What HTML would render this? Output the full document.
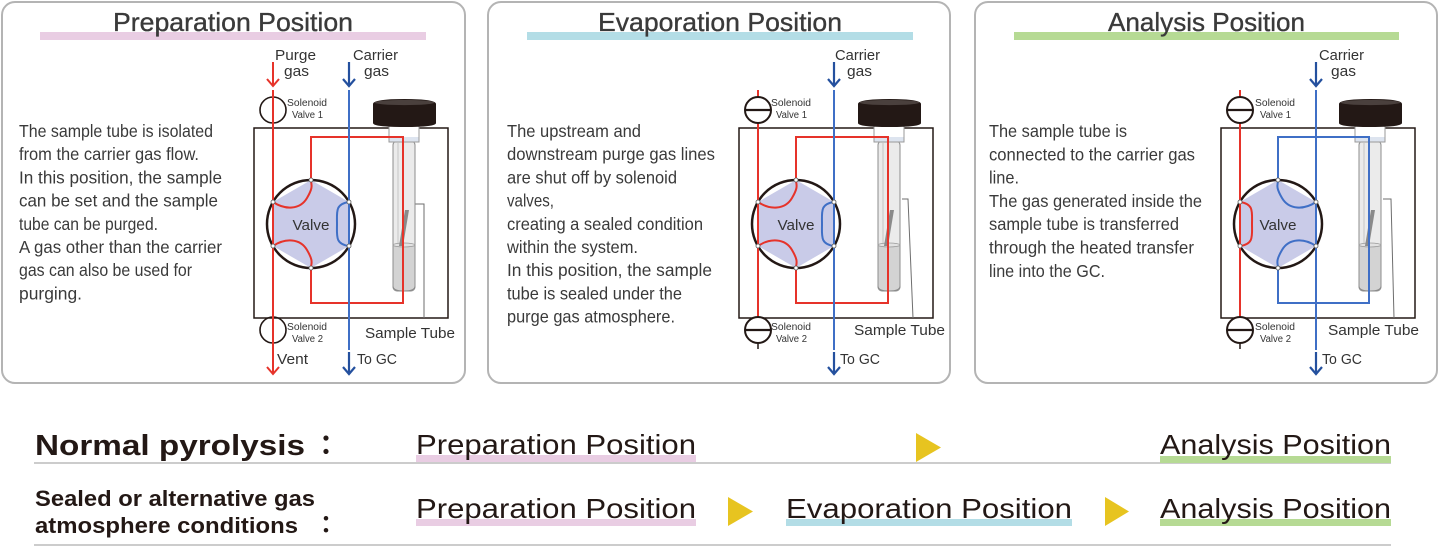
<!DOCTYPE html>
<html><head><meta charset="utf-8">
<style>html,body{margin:0;padding:0;background:#fff;}svg{display:block;}</style>
</head><body>
<svg width="1440" height="547" viewBox="0 0 1440 547" xmlns="http://www.w3.org/2000/svg" font-family="'Liberation Sans', 'Noto Sans CJK JP', sans-serif">
<rect x="0" y="0" width="1440" height="547" fill="#fff"/>

<!-- ===== Panel frames ===== -->
<rect x="2" y="2" width="463" height="381" rx="13" fill="#fff" stroke="#b4b4b4" stroke-width="2"/>
<rect x="488" y="2" width="462" height="381" rx="13" fill="#fff" stroke="#b4b4b4" stroke-width="2"/>
<rect x="975" y="2" width="462" height="381" rx="13" fill="#fff" stroke="#b4b4b4" stroke-width="2"/>

<!-- titles -->
<rect x="40" y="32" width="386" height="8" fill="#e9cde3"/>
<rect x="527" y="32" width="386" height="8" fill="#b3dde6"/>
<rect x="1014" y="32" width="385" height="8" fill="#b6da94"/>
<g font-size="26" fill="#3a3a3a" stroke="#3a3a3a" stroke-width="0.35">
<text x="113" y="31" textLength="240" lengthAdjust="spacingAndGlyphs">Preparation Position</text>
<text x="598" y="31" textLength="244" lengthAdjust="spacingAndGlyphs">Evaporation Position</text>
<text x="1108" y="31" textLength="197" lengthAdjust="spacingAndGlyphs">Analysis Position</text>
</g>

<!-- body texts -->
<g font-size="17.5" fill="#3a3a3a">
<text x="19" y="137" textLength="194" lengthAdjust="spacingAndGlyphs">The sample tube is isolated</text>
<text x="19" y="160.2" textLength="180" lengthAdjust="spacingAndGlyphs">from the carrier gas flow.</text>
<text x="19" y="183.4" textLength="203" lengthAdjust="spacingAndGlyphs">In this position, the sample</text>
<text x="19" y="206.6" textLength="199" lengthAdjust="spacingAndGlyphs">can be set and the sample</text>
<text x="19" y="229.8" textLength="139" lengthAdjust="spacingAndGlyphs">tube can be purged.</text>
<text x="19" y="253" textLength="203" lengthAdjust="spacingAndGlyphs">A gas other than the carrier</text>
<text x="19" y="276.2" textLength="173" lengthAdjust="spacingAndGlyphs">gas can also be used for</text>
<text x="19" y="299.4" textLength="63" lengthAdjust="spacingAndGlyphs">purging.</text>

<text x="507" y="137" textLength="134" lengthAdjust="spacingAndGlyphs">The upstream and</text>
<text x="507" y="160.2" textLength="208" lengthAdjust="spacingAndGlyphs">downstream purge gas lines</text>
<text x="507" y="183.4" textLength="170" lengthAdjust="spacingAndGlyphs">are shut off by solenoid</text>
<text x="507" y="206.6" textLength="47" lengthAdjust="spacingAndGlyphs">valves,</text>
<text x="507" y="229.8" textLength="196" lengthAdjust="spacingAndGlyphs">creating a sealed condition</text>
<text x="507" y="253" textLength="131" lengthAdjust="spacingAndGlyphs">within the system.</text>
<text x="507" y="276.2" textLength="205" lengthAdjust="spacingAndGlyphs">In this position, the sample</text>
<text x="507" y="299.4" textLength="175" lengthAdjust="spacingAndGlyphs">tube is sealed under the</text>
<text x="507" y="322.6" textLength="168" lengthAdjust="spacingAndGlyphs">purge gas atmosphere.</text>

<text x="989" y="137" textLength="138" lengthAdjust="spacingAndGlyphs">The sample tube is</text>
<text x="989" y="160.3" textLength="206" lengthAdjust="spacingAndGlyphs">connected to the carrier gas</text>
<text x="989" y="183.6" textLength="30" lengthAdjust="spacingAndGlyphs">line.</text>
<text x="989" y="206.9" textLength="213" lengthAdjust="spacingAndGlyphs">The gas generated inside the</text>
<text x="989" y="230.2" textLength="190" lengthAdjust="spacingAndGlyphs">sample tube is transferred</text>
<text x="989" y="253.5" textLength="205" lengthAdjust="spacingAndGlyphs">through the heated transfer</text>
<text x="989" y="276.8" textLength="116" lengthAdjust="spacingAndGlyphs">line into the GC.</text>
</g>

<!-- ===== PANEL 1 DIAGRAM ===== -->
<g>
<rect x="254" y="128" width="194" height="190" fill="none" stroke="#231815" stroke-width="1.5"/>
<polyline points="413,204 424,204 424,318" fill="none" stroke="#6e6e6e" stroke-width="1"/>
<!-- tube -->
<rect x="393" y="141" width="22" height="150" rx="4" fill="#ebebeb" stroke="#8c8c8c" stroke-width="1"/>
<line x1="398" y1="143" x2="398" y2="288" stroke="#c4c4c4" stroke-width="1"/>
<path d="M393,245 H415 V286 Q415,291 404,291 Q393,291 393,286 Z" fill="#d3d3d3" stroke="#8c8c8c" stroke-width="1"/>
<ellipse cx="404" cy="245" rx="11" ry="2" fill="#e2e2e2" stroke="#9a9a9a" stroke-width="0.8"/>
<polygon points="405,210 409,210 403,246 399,246" fill="#8a8a8a"/>
<rect x="389" y="126" width="30" height="16" fill="#fff" stroke="#9a9a9a" stroke-width="1"/>
<rect x="389.5" y="137" width="29" height="4.5" fill="#dde4ef"/>
<path d="M373,104 Q373,99 404.5,99 Q436,99 436,104 V123 Q436,127 404.5,127 Q373,127 373,123 Z" fill="#231815"/>
<ellipse cx="404.5" cy="102.5" rx="30" ry="2.6" fill="#4a403d"/>
<!-- red loop -->
<path d="M311,180 V137 H403 V303 H311 V268" fill="none" stroke="#e6332a" stroke-width="2"/>
<!-- valve -->
<circle cx="311" cy="224" r="44" fill="#fff" stroke="#231815" stroke-width="2.5"/>
<polygon points="311,180 349,202 349,246 311,268 273,246 273,202" fill="#c9cbe8"/>
<text x="311" y="230" font-size="15" text-anchor="middle" fill="#333" textLength="37" lengthAdjust="spacingAndGlyphs">Valve</text>
<path d="M273,202 C285,210 300,210 307,198 S311,185 311,180" fill="none" stroke="#e6332a" stroke-width="2"/>
<path d="M273,246 C285,238 300,238 307,250 S311,263 311,268" fill="none" stroke="#e6332a" stroke-width="2"/>
<path d="M349,202 C335,204 337,212 337,224 C337,236 335,244 349,246" fill="none" stroke="#3f6fc6" stroke-width="2"/>
<!-- solenoids (open) -->
<circle cx="273" cy="110" r="13" fill="none" stroke="#231815" stroke-width="1.6"/>
<circle cx="273" cy="330" r="13" fill="none" stroke="#231815" stroke-width="1.6"/>
<!-- verticals -->
<line x1="273" y1="90" x2="273" y2="374" stroke="#e6332a" stroke-width="2"/>
<polyline points="267,367 273,374 279,367" fill="none" stroke="#e6332a" stroke-width="2"/>
<line x1="273" y1="62" x2="273" y2="86" stroke="#e6332a" stroke-width="2"/>
<polyline points="267,79 273,86 279,79" fill="none" stroke="#e6332a" stroke-width="2"/>
<line x1="349" y1="90" x2="349" y2="350" stroke="#3f6fc6" stroke-width="2"/>
<line x1="349" y1="352" x2="349" y2="374" stroke="#24509e" stroke-width="2.2"/>
<polyline points="343,367 349,374 355,367" fill="none" stroke="#24509e" stroke-width="2.2"/>
<line x1="349" y1="62" x2="349" y2="86" stroke="#24509e" stroke-width="2.2"/>
<polyline points="343,79 349,86 355,79" fill="none" stroke="#24509e" stroke-width="2.2"/>
<!-- vertex dots -->
<g fill="#fff" stroke="#555" stroke-width="0.8">
<circle cx="311" cy="180" r="2"/><circle cx="349" cy="202" r="2"/><circle cx="349" cy="246" r="2"/>
<circle cx="311" cy="268" r="2"/><circle cx="273" cy="246" r="2"/><circle cx="273" cy="202" r="2"/>
</g>
<!-- labels -->
<g fill="#333">
<text x="275" y="60" font-size="15" textLength="41" lengthAdjust="spacingAndGlyphs">Purge</text>
<text x="284" y="76" font-size="15" textLength="25" lengthAdjust="spacingAndGlyphs">gas</text>
<text x="353" y="60" font-size="15" textLength="45" lengthAdjust="spacingAndGlyphs">Carrier</text>
<text x="364" y="76" font-size="15" textLength="25" lengthAdjust="spacingAndGlyphs">gas</text>
<text x="287" y="106" font-size="10" textLength="40" lengthAdjust="spacingAndGlyphs">Solenoid</text>
<text x="292" y="118" font-size="10" textLength="31" lengthAdjust="spacingAndGlyphs">Valve 1</text>
<text x="287" y="330" font-size="10" textLength="40" lengthAdjust="spacingAndGlyphs">Solenoid</text>
<text x="292" y="342" font-size="10" textLength="31" lengthAdjust="spacingAndGlyphs">Valve 2</text>
<text x="365" y="338" font-size="15" textLength="90" lengthAdjust="spacingAndGlyphs">Sample Tube</text>
<text x="277" y="364" font-size="15" textLength="31" lengthAdjust="spacingAndGlyphs">Vent</text>
<text x="357" y="364" font-size="15" textLength="40" lengthAdjust="spacingAndGlyphs">To GC</text>
</g>
</g>

<!-- ===== PANEL 2 DIAGRAM ===== -->
<g transform="translate(485,0)">
<rect x="254" y="128" width="194" height="190" fill="none" stroke="#231815" stroke-width="1.5"/>
<polyline points="417,199 423,199 428,318" fill="none" stroke="#6e6e6e" stroke-width="1"/>
<rect x="393" y="141" width="22" height="150" rx="4" fill="#ebebeb" stroke="#8c8c8c" stroke-width="1"/>
<line x1="398" y1="143" x2="398" y2="288" stroke="#c4c4c4" stroke-width="1"/>
<path d="M393,245 H415 V286 Q415,291 404,291 Q393,291 393,286 Z" fill="#d3d3d3" stroke="#8c8c8c" stroke-width="1"/>
<ellipse cx="404" cy="245" rx="11" ry="2" fill="#e2e2e2" stroke="#9a9a9a" stroke-width="0.8"/>
<polygon points="405,210 409,210 403,246 399,246" fill="#8a8a8a"/>
<rect x="389" y="126" width="30" height="16" fill="#fff" stroke="#9a9a9a" stroke-width="1"/>
<rect x="389.5" y="137" width="29" height="4.5" fill="#dde4ef"/>
<path d="M373,104 Q373,99 404.5,99 Q436,99 436,104 V123 Q436,127 404.5,127 Q373,127 373,123 Z" fill="#231815"/>
<ellipse cx="404.5" cy="102.5" rx="30" ry="2.6" fill="#4a403d"/>
<path d="M311,180 V137 H403 V303 H311 V268" fill="none" stroke="#e6332a" stroke-width="2"/>
<circle cx="311" cy="224" r="44" fill="#fff" stroke="#231815" stroke-width="2.5"/>
<polygon points="311,180 349,202 349,246 311,268 273,246 273,202" fill="#c9cbe8"/>
<text x="311" y="230" font-size="15" text-anchor="middle" fill="#333" textLength="37" lengthAdjust="spacingAndGlyphs">Valve</text>
<path d="M273,202 C285,210 300,210 307,198 S311,185 311,180" fill="none" stroke="#e6332a" stroke-width="2"/>
<path d="M273,246 C285,238 300,238 307,250 S311,263 311,268" fill="none" stroke="#e6332a" stroke-width="2"/>
<path d="M349,202 C335,204 337,212 337,224 C337,236 335,244 349,246" fill="none" stroke="#3f6fc6" stroke-width="2"/>
<!-- red vertical (segments) -->
<line x1="273" y1="90" x2="273" y2="97" stroke="#e6332a" stroke-width="2"/>
<line x1="273" y1="123" x2="273" y2="317" stroke="#e6332a" stroke-width="2"/>
<!-- closed solenoids -->
<circle cx="273" cy="110" r="13" fill="#fff" stroke="#231815" stroke-width="2"/>
<line x1="260" y1="110" x2="286" y2="110" stroke="#231815" stroke-width="2.2"/>
<circle cx="273" cy="330" r="13" fill="#fff" stroke="#231815" stroke-width="2"/>
<line x1="260" y1="330" x2="286" y2="330" stroke="#231815" stroke-width="2.2"/>
<line x1="273" y1="343" x2="273" y2="349" stroke="#231815" stroke-width="1.5"/>
<!-- blue -->
<line x1="349" y1="90" x2="349" y2="350" stroke="#3f6fc6" stroke-width="2"/>
<line x1="349" y1="352" x2="349" y2="374" stroke="#24509e" stroke-width="2.2"/>
<polyline points="343,367 349,374 355,367" fill="none" stroke="#24509e" stroke-width="2.2"/>
<line x1="349" y1="62" x2="349" y2="86" stroke="#24509e" stroke-width="2.2"/>
<polyline points="343,79 349,86 355,79" fill="none" stroke="#24509e" stroke-width="2.2"/>
<g fill="#fff" stroke="#555" stroke-width="0.8">
<circle cx="311" cy="180" r="2"/><circle cx="349" cy="202" r="2"/><circle cx="349" cy="246" r="2"/>
<circle cx="311" cy="268" r="2"/><circle cx="273" cy="246" r="2"/><circle cx="273" cy="202" r="2"/>
</g>
<g fill="#333">
<text x="350" y="60" font-size="15" textLength="45" lengthAdjust="spacingAndGlyphs">Carrier</text>
<text x="362" y="76" font-size="15" textLength="25" lengthAdjust="spacingAndGlyphs">gas</text>
<text x="286" y="106" font-size="10" textLength="40" lengthAdjust="spacingAndGlyphs">Solenoid</text>
<text x="291" y="118" font-size="10" textLength="31" lengthAdjust="spacingAndGlyphs">Valve 1</text>
<text x="286" y="330" font-size="10" textLength="40" lengthAdjust="spacingAndGlyphs">Solenoid</text>
<text x="291" y="342" font-size="10" textLength="31" lengthAdjust="spacingAndGlyphs">Valve 2</text>
<text x="369" y="335" font-size="15" textLength="91" lengthAdjust="spacingAndGlyphs">Sample Tube</text>
<text x="355" y="364" font-size="15" textLength="40" lengthAdjust="spacingAndGlyphs">To GC</text>
</g>
</g>

<!-- ===== PANEL 3 DIAGRAM ===== -->
<g transform="translate(967,0)">
<rect x="254" y="128" width="194" height="190" fill="none" stroke="#231815" stroke-width="1.5"/>
<polyline points="416,199 424,199 427,318" fill="none" stroke="#6e6e6e" stroke-width="1"/>
<rect x="392" y="141" width="22" height="150" rx="4" fill="#ebebeb" stroke="#8c8c8c" stroke-width="1"/>
<line x1="397" y1="143" x2="397" y2="288" stroke="#c4c4c4" stroke-width="1"/>
<path d="M392,245 H414 V286 Q414,291 403,291 Q392,291 392,286 Z" fill="#d3d3d3" stroke="#8c8c8c" stroke-width="1"/>
<ellipse cx="403" cy="245" rx="11" ry="2" fill="#e2e2e2" stroke="#9a9a9a" stroke-width="0.8"/>
<polygon points="404,210 408,210 402,246 398,246" fill="#8a8a8a"/>
<rect x="388" y="126" width="30" height="16" fill="#fff" stroke="#9a9a9a" stroke-width="1"/>
<rect x="388.5" y="137" width="29" height="4.5" fill="#dde4ef"/>
<path d="M372,104 Q372,99 403.5,99 Q435,99 435,104 V123 Q435,127 403.5,127 Q372,127 372,123 Z" fill="#231815"/>
<ellipse cx="403.5" cy="102.5" rx="30" ry="2.6" fill="#4a403d"/>
<!-- blue loop -->
<path d="M311,180 V137 H402 V303 H311 V268" fill="none" stroke="#3f6fc6" stroke-width="2"/>
<circle cx="311" cy="224" r="44" fill="#fff" stroke="#231815" stroke-width="2.5"/>
<polygon points="311,180 349,202 349,246 311,268 273,246 273,202" fill="#c9cbe8"/>
<text x="311" y="230" font-size="15" text-anchor="middle" fill="#333" textLength="37" lengthAdjust="spacingAndGlyphs">Valve</text>
<path d="M349,202 C337,210 322,210 315,198 S311,185 311,180" fill="none" stroke="#3f6fc6" stroke-width="2"/>
<path d="M349,246 C337,238 322,238 315,250 S311,263 311,268" fill="none" stroke="#3f6fc6" stroke-width="2"/>
<path d="M273,202 C287,204 285,212 285,224 C285,236 287,244 273,246" fill="none" stroke="#e6332a" stroke-width="2"/>
<line x1="273" y1="90" x2="273" y2="97" stroke="#e6332a" stroke-width="2"/>
<line x1="273" y1="123" x2="273" y2="317" stroke="#e6332a" stroke-width="2"/>
<circle cx="273" cy="110" r="13" fill="#fff" stroke="#231815" stroke-width="2"/>
<line x1="260" y1="110" x2="286" y2="110" stroke="#231815" stroke-width="2.2"/>
<circle cx="273" cy="330" r="13" fill="#fff" stroke="#231815" stroke-width="2"/>
<line x1="260" y1="330" x2="286" y2="330" stroke="#231815" stroke-width="2.2"/>
<line x1="273" y1="343" x2="273" y2="349" stroke="#231815" stroke-width="1.5"/>
<line x1="349" y1="90" x2="349" y2="350" stroke="#3f6fc6" stroke-width="2"/>
<line x1="349" y1="352" x2="349" y2="374" stroke="#24509e" stroke-width="2.2"/>
<polyline points="343,367 349,374 355,367" fill="none" stroke="#24509e" stroke-width="2.2"/>
<line x1="349" y1="62" x2="349" y2="86" stroke="#24509e" stroke-width="2.2"/>
<polyline points="343,79 349,86 355,79" fill="none" stroke="#24509e" stroke-width="2.2"/>
<g fill="#fff" stroke="#555" stroke-width="0.8">
<circle cx="311" cy="180" r="2"/><circle cx="349" cy="202" r="2"/><circle cx="349" cy="246" r="2"/>
<circle cx="311" cy="268" r="2"/><circle cx="273" cy="246" r="2"/><circle cx="273" cy="202" r="2"/>
</g>
<g fill="#333">
<text x="352" y="60" font-size="15" textLength="45" lengthAdjust="spacingAndGlyphs">Carrier</text>
<text x="364" y="76" font-size="15" textLength="25" lengthAdjust="spacingAndGlyphs">gas</text>
<text x="288" y="106" font-size="10" textLength="40" lengthAdjust="spacingAndGlyphs">Solenoid</text>
<text x="293" y="118" font-size="10" textLength="31" lengthAdjust="spacingAndGlyphs">Valve 1</text>
<text x="288" y="330" font-size="10" textLength="40" lengthAdjust="spacingAndGlyphs">Solenoid</text>
<text x="293" y="342" font-size="10" textLength="31" lengthAdjust="spacingAndGlyphs">Valve 2</text>
<text x="361" y="335" font-size="15" textLength="91" lengthAdjust="spacingAndGlyphs">Sample Tube</text>
<text x="355" y="364" font-size="15" textLength="40" lengthAdjust="spacingAndGlyphs">To GC</text>
</g>
</g>

<!-- ===== Bottom section ===== -->
<rect x="34" y="462" width="1357" height="2" fill="#cccccc"/>
<rect x="34" y="544" width="1357" height="2" fill="#cccccc"/>

<g fill="#231815" font-weight="bold">
<text x="35" y="455" font-size="29" textLength="270" lengthAdjust="spacingAndGlyphs">Normal pyrolysis</text>
<text x="326" y="455" font-size="27" text-anchor="middle">：</text>
<text x="35" y="506" font-size="22" textLength="280" lengthAdjust="spacingAndGlyphs">Sealed or alternative gas</text>
<text x="35" y="533" font-size="22" textLength="263" lengthAdjust="spacingAndGlyphs">atmosphere conditions</text>
<text x="326" y="533" font-size="24" text-anchor="middle">：</text>
</g>

<!-- underlines -->
<rect x="416" y="455" width="280" height="7" fill="#e9cde3"/>
<rect x="1160" y="456" width="231" height="7" fill="#b6da94"/>
<rect x="416" y="519" width="280" height="7" fill="#e9cde3"/>
<rect x="786" y="519" width="286" height="7" fill="#b3dde6"/>
<rect x="1160" y="519" width="231" height="7" fill="#b6da94"/>

<g fill="#231815" font-size="28">
<text x="416" y="454" textLength="280" lengthAdjust="spacingAndGlyphs">Preparation Position</text>
<text x="1160" y="454" textLength="231" lengthAdjust="spacingAndGlyphs">Analysis Position</text>
<text x="416" y="518" textLength="280" lengthAdjust="spacingAndGlyphs">Preparation Position</text>
<text x="786" y="518" textLength="286" lengthAdjust="spacingAndGlyphs">Evaporation Position</text>
<text x="1160" y="518" textLength="231" lengthAdjust="spacingAndGlyphs">Analysis Position</text>
</g>

<!-- yellow triangles -->
<g fill="#e7c420">
<polygon points="916,433 941,447.5 916,462"/>
<polygon points="728,497 753,511.5 728,526"/>
<polygon points="1105,497 1129,511.5 1105,526"/>
</g>
</svg>
</body></html>
